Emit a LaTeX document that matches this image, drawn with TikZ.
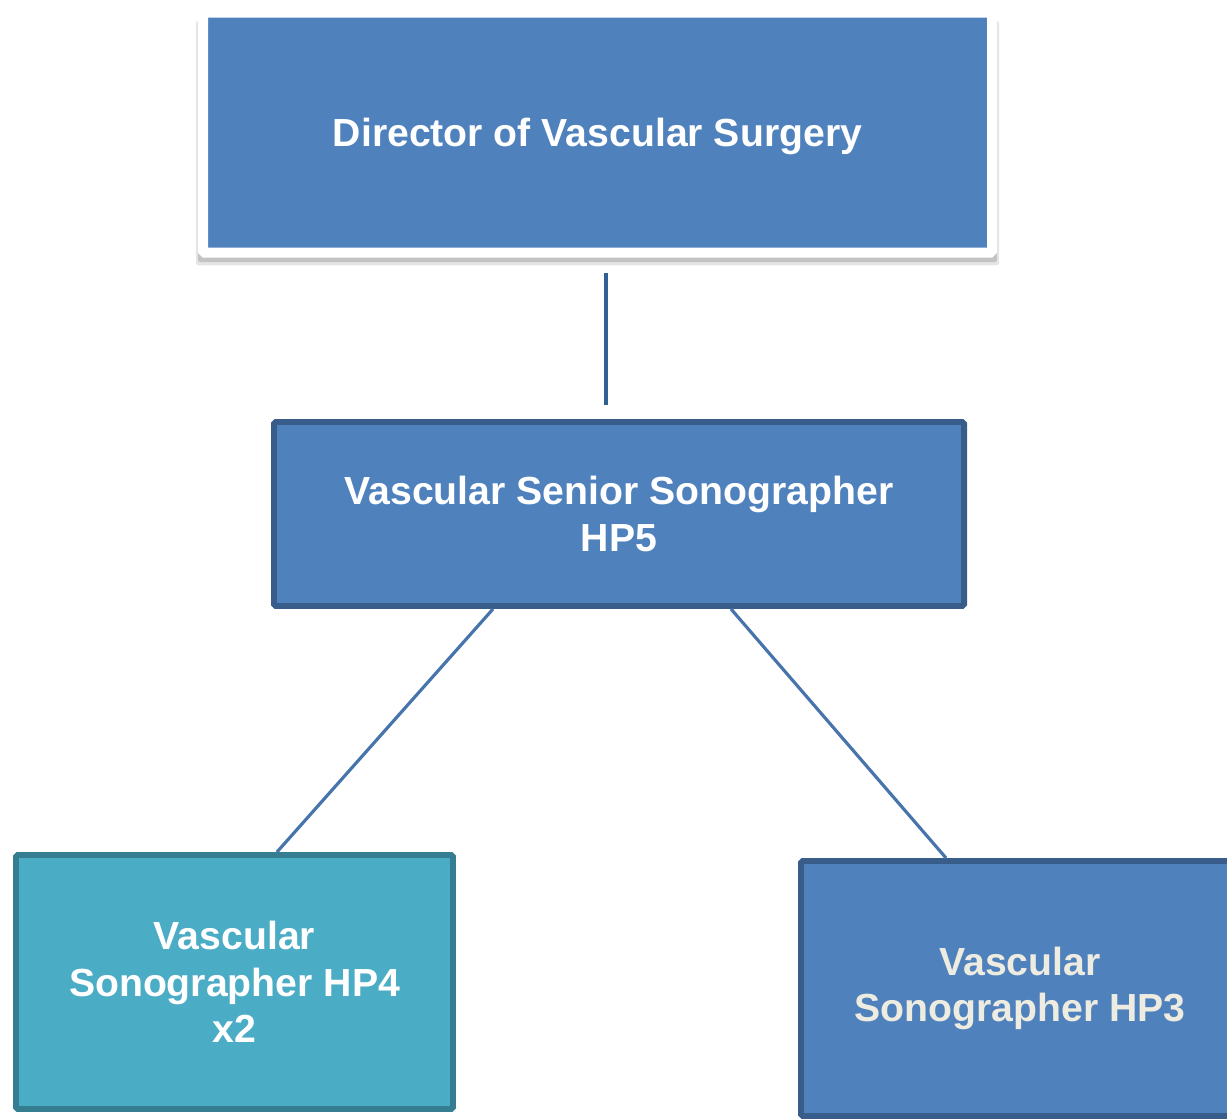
\documentclass[tikz,border=0pt]{standalone}
\usepackage{fontspec}
\setmainfont{Liberation Sans}
\usepackage{xcolor}
\usetikzlibrary{positioning,shadows}

\definecolor{boxBlue}{HTML}{4F81BD}
\definecolor{boxBlueLine}{HTML}{385D8A}
\definecolor{boxTeal}{HTML}{4BACC6}
\definecolor{boxTealLine}{HTML}{357D91}
\definecolor{linkTop}{HTML}{2F6196}
\definecolor{paleText}{HTML}{EEECE1}

\tikzset{
    orgbox/.style={rectangle, rounded corners=1pt, align=center, text=white,
        font=\bfseries\fontsize{22.3}{26.6}\selectfont, inner sep=0pt},
    link/.style={line width=1.8pt, draw=boxBlue!90!black}
}

\begin{document}
\begin{tikzpicture}
    \clip (0,0) rectangle (24.54,-22.36);
    \useasboundingbox (0,0) rectangle (24.54,-22.36);
    \node[orgbox, fill=boxBlue, draw=white, line width=5.7pt,
        minimum width=15.78cm, minimum height=4.8cm,
        drop shadow={shadow xshift=0pt, shadow yshift=-6pt, shadow scale=1.018,
            opacity=0.1, fill=black},
        drop shadow={shadow xshift=0pt, shadow yshift=-4.5pt, shadow scale=1.013,
            opacity=0.15, fill=black}]
        (director) at (11.95,-2.65) {\raisebox{-2.3pt}[\height][\depth]{Director of Vascular Surgery}};
    \node[orgbox, fill=boxBlue, draw=boxBlueLine, line width=3.4pt,
        minimum width=13.8cm, minimum height=3.68cm,
        below=3.23cm of director, xshift=0.43cm]
        (seniorSono) {Vascular Senior Sonographer\\HP5};
    \node[orgbox, fill=boxTeal, draw=boxTealLine, line width=3.4pt,
        minimum width=8.74cm, minimum height=5.08cm,
        below=4.86cm of seniorSono, xshift=-7.69cm]
        (sonoHPFour) {Vascular\\Sonographer HP4\\x2};
    \node[orgbox, fill=boxBlue, draw=boxBlueLine, line width=3.4pt, text=paleText,
        minimum width=8.76cm, minimum height=5.1cm,
        below=4.98cm of seniorSono, xshift=8.02cm]
        (sonoHPThree) {Vascular\\Sonographer HP3};
    % reporting lines
    \draw[link, draw=linkTop] ([xshift=0.17cm, yshift=-0.31cm]director.south)
        -- ([xshift=-0.26cm, yshift=0.28cm]seniorSono.north);
    \draw[link] ([xshift=-2.52cm]seniorSono.south) -- ([xshift=0.85cm]sonoHPFour.north);
    \draw[link] ([xshift=2.24cm]seniorSono.south) -- ([xshift=-1.48cm]sonoHPThree.north);
\end{tikzpicture}
\end{document}
